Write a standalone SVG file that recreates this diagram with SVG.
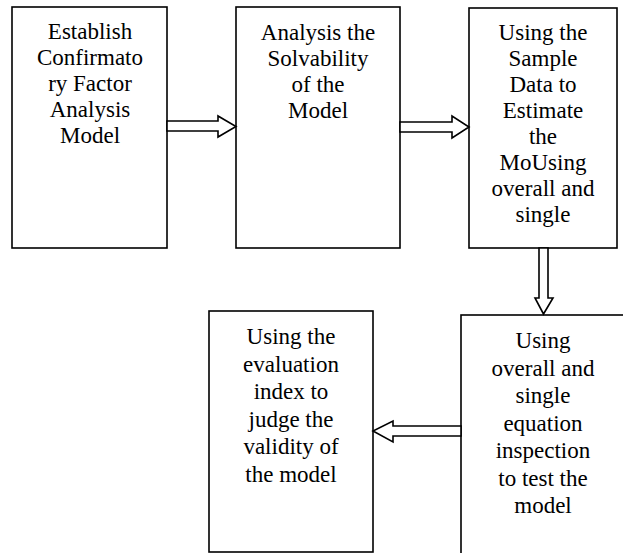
<svg xmlns="http://www.w3.org/2000/svg" width="623" height="553" viewBox="0 0 623 553">
<style>
.box{fill:#fff;stroke:#000;stroke-width:1.6}
.arr{fill:#fff;stroke:#000;stroke-width:1.6;stroke-linejoin:miter}
</style>
<rect width="623" height="553" fill="#fff"/>
<g id="n1">
<rect class="box" x="12" y="7" width="155" height="241"/>
<text font-family="Liberation Serif" font-size="23" text-anchor="middle" x="90" y="39">Establish</text>
<text font-family="Liberation Serif" font-size="23" text-anchor="middle" x="90" y="65">Confirmato</text>
<text font-family="Liberation Serif" font-size="23" text-anchor="middle" x="90" y="91">ry Factor</text>
<text font-family="Liberation Serif" font-size="23" text-anchor="middle" x="90" y="117">Analysis</text>
<text font-family="Liberation Serif" font-size="23" text-anchor="middle" x="90" y="143">Model</text>
</g>
<g id="n2">
<rect class="box" x="236" y="7" width="164" height="241"/>
<text font-family="Liberation Serif" font-size="23" text-anchor="middle" x="318" y="40">Analysis the</text>
<text font-family="Liberation Serif" font-size="23" text-anchor="middle" x="318" y="66">Solvability</text>
<text font-family="Liberation Serif" font-size="23" text-anchor="middle" x="318" y="92">of the</text>
<text font-family="Liberation Serif" font-size="23" text-anchor="middle" x="318" y="118">Model</text>
</g>
<g id="n3">
<rect class="box" x="469" y="8" width="148" height="240"/>
<text font-family="Liberation Serif" font-size="23" text-anchor="middle" x="543" y="40">Using the</text>
<text font-family="Liberation Serif" font-size="23" text-anchor="middle" x="543" y="66">Sample</text>
<text font-family="Liberation Serif" font-size="23" text-anchor="middle" x="543" y="92">Data to</text>
<text font-family="Liberation Serif" font-size="23" text-anchor="middle" x="543" y="118">Estimate</text>
<text font-family="Liberation Serif" font-size="23" text-anchor="middle" x="543" y="144">the</text>
<text font-family="Liberation Serif" font-size="23" text-anchor="middle" x="543" y="170">MoUsing</text>
<text font-family="Liberation Serif" font-size="23" text-anchor="middle" x="543" y="196">overall and</text>
<text font-family="Liberation Serif" font-size="23" text-anchor="middle" x="543" y="222">single</text>
</g>
<g id="n4">
<rect class="box" x="461" y="315" width="180" height="250"/>
<text font-family="Liberation Serif" font-size="23" text-anchor="middle" x="543" y="348">Using</text>
<text font-family="Liberation Serif" font-size="23" text-anchor="middle" x="543" y="375.5">overall and</text>
<text font-family="Liberation Serif" font-size="23" text-anchor="middle" x="543" y="403">single</text>
<text font-family="Liberation Serif" font-size="23" text-anchor="middle" x="543" y="430.5">equation</text>
<text font-family="Liberation Serif" font-size="23" text-anchor="middle" x="543" y="458">inspection</text>
<text font-family="Liberation Serif" font-size="23" text-anchor="middle" x="543" y="485.5">to test the</text>
<text font-family="Liberation Serif" font-size="23" text-anchor="middle" x="543" y="513">model</text>
</g>
<g id="n5">
<rect class="box" x="209" y="311" width="164" height="241"/>
<text font-family="Liberation Serif" font-size="23" text-anchor="middle" x="291" y="344">Using the</text>
<text font-family="Liberation Serif" font-size="23" text-anchor="middle" x="291" y="371.5">evaluation</text>
<text font-family="Liberation Serif" font-size="23" text-anchor="middle" x="291" y="399">index to</text>
<text font-family="Liberation Serif" font-size="23" text-anchor="middle" x="291" y="426.5">judge the</text>
<text font-family="Liberation Serif" font-size="23" text-anchor="middle" x="291" y="454">validity of</text>
<text font-family="Liberation Serif" font-size="23" text-anchor="middle" x="291" y="481.5">the model</text>
</g>
<g id="connectors">
<polygon class="arr" points="167,121 218,121 218,116 236,126.5 218,137 218,131 167,131"/>
<polygon class="arr" points="400,122 452,122 452,116 469,127 452,138 452,132 400,132"/>
<polygon class="arr" points="539,248 548,248 548,298 553,298 543.5,314 535,298 539,298"/>
<polygon class="arr" points="461,426 393,426 393,421 373,431 393,442 393,436 461,436"/>
</g>
</svg>
